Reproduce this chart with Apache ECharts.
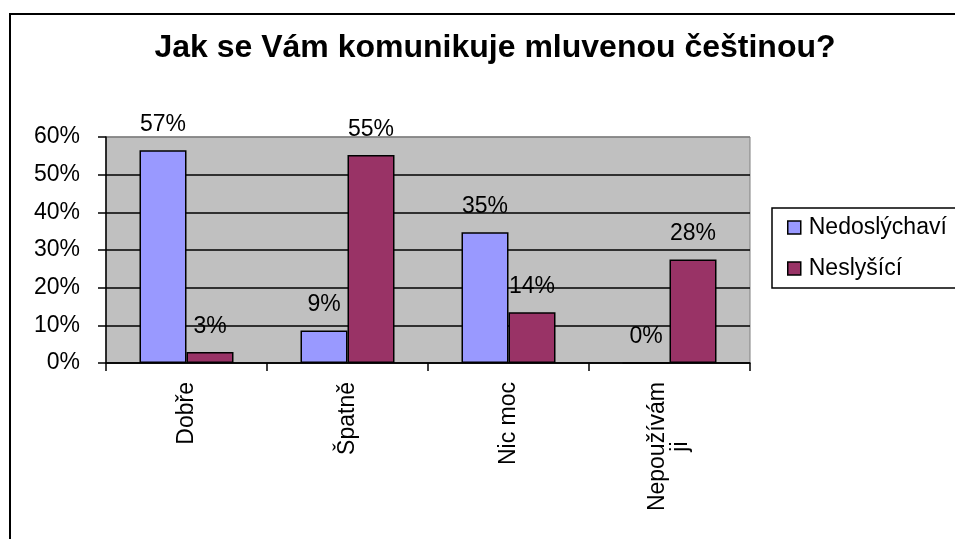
<!DOCTYPE html>
<html>
<head>
<meta charset="utf-8">
<script src="https://cdn.jsdelivr.net/npm/echarts@6/dist/echarts.min.js"></script>
<style>
  html, body { margin: 0; padding: 0; background: #fff; }
  #chart { width: 955px; height: 539px; }
</style>
</head>
<body>
<div id="chart"></div>
<script>
var categories = ['Dobře', 'Špatně', 'Nic moc', 'Nepoužívám ji'];
var nedoslychavi = [56.5, 8.6, 34.7, 0];
var neslysici = [2.9, 55.2, 13.5, 27.5];
var yTicks = [0, 10, 20, 30, 40, 50, 60];

var font = 'Liberation Sans, Arial, sans-serif';

var labelStyle = {
  show: true,
  position: 'top',
  distance: 14,
  color: '#000',
  fontFamily: font,
  fontSize: 23,
  formatter: function (p) { return Math.round(p.value) + '%'; }
};

var myChart = echarts.init(document.getElementById('chart'));

var option = {
  backgroundColor: '#fff',
  animation: false,
  title: {
    text: 'Jak se Vám komunikuje mluvenou češtinou?',
    left: 490,
    textAlign: 'center',
    top: 27,
    textStyle: { fontFamily: font, fontSize: 32, fontWeight: 'bold', color: '#000' }
  },
  legend: {
    left: 772,
    top: 208,
    orient: 'vertical',
    itemGap: 18,
    itemWidth: 13,
    itemHeight: 13,
    padding: [8, 80, 8, 15],
    borderColor: '#000',
    borderWidth: 1.5,
    backgroundColor: '#fff',
    textStyle: { fontFamily: font, fontSize: 23, color: '#000', padding: [0, 0, 0, 3] },
    data: [
      { name: 'Nedoslýchaví', icon: 'rect', itemStyle: { borderColor: '#000', borderWidth: 1.5 } },
      { name: 'Neslyšící', icon: 'rect', itemStyle: { borderColor: '#000', borderWidth: 1.5 } }
    ]
  },
  grid: {
    left: 106,
    right: 205,
    top: 137,
    bottom: 176,
    show: true,
    backgroundColor: '#C0C0C0',
    borderColor: '#808080',
    borderWidth: 1
  },
  xAxis: {
    type: 'category',
    data: categories,
    axisLine: { lineStyle: { color: '#000', width: 1.5 } },
    axisTick: { show: true, length: 8, lineStyle: { color: '#000', width: 1.5 } },
    axisLabel: {
      rotate: 90,
      margin: 19,
      color: '#000',
      fontFamily: font,
      fontSize: 23,
      formatter: function (v) {
        var parts = v === 'Nepoužívám ji' ? ['Nepoužívám', 'ji'] : [v];
        return parts.map(function (s) { return '{c|' + s + '}'; }).join('\n');
      },
      rich: { c: { align: 'center', fontFamily: font, fontSize: 23, color: '#000' } }
    }
  },
  yAxis: {
    type: 'value',
    min: yTicks[0],
    max: yTicks[yTicks.length - 1],
    interval: 10,
    axisLine: { show: true, lineStyle: { color: '#000', width: 1.5 } },
    axisTick: { show: true, length: 8, lineStyle: { color: '#000', width: 1.5 } },
    axisLabel: {
      margin: 26,
      color: '#000',
      fontFamily: font,
      fontSize: 23,
      formatter: '{value}%'
    },
    splitLine: {
      show: true,
      lineStyle: { color: ['#000', '#000', '#000', '#000', '#000', '#000', '#808080'], width: 1.5 }
    }
  },
  series: [
    {
      name: 'Nedoslýchaví',
      type: 'bar',
      data: nedoslychavi,
      barWidth: 47,
      barGap: '0%',
      itemStyle: { color: '#9999FF', borderColor: '#000', borderWidth: 1.5 },
      label: labelStyle
    },
    {
      name: 'Neslyšící',
      type: 'bar',
      data: neslysici,
      barWidth: 47,
      barGap: '0%',
      itemStyle: { color: '#993366', borderColor: '#000', borderWidth: 1.5 },
      label: labelStyle
    }
  ],
  graphic: [
    {
      type: 'rect',
      silent: true,
      z: 100,
      shape: { x: 10, y: 14, width: 1000, height: 600 },
      style: { fill: 'none', stroke: '#000', lineWidth: 2 }
    }
  ]
};

myChart.setOption(option);
</script>
</body>
</html>
